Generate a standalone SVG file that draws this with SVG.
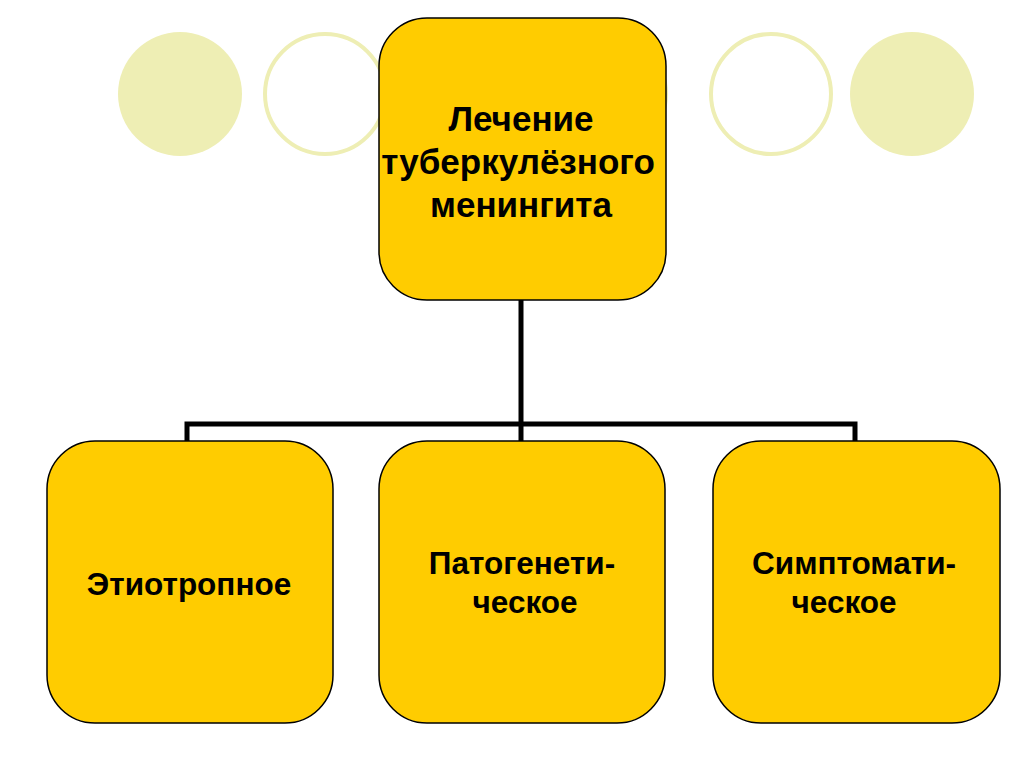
<svg xmlns="http://www.w3.org/2000/svg" width="1024" height="767" viewBox="0 0 1024 767">
<style>
.deco-f{fill:#EEEEB4;}
.deco-o{fill:none;stroke:#EEEEB4;stroke-width:4;}
.box{fill:#FFCC00;stroke:#000;stroke-width:1.5;}
.lbl{font-family:"Liberation Sans",Arial,sans-serif;font-weight:bold;font-size:31.5px;fill:#000;text-anchor:middle;}
.big{font-size:35px;}
.conn{fill:none;stroke:#000;stroke-width:5;}
</style>
<rect width="1024" height="767" fill="#fff"/>
<g id="decor">
<circle class="deco-f" cx="180" cy="94" r="62"/>
<circle class="deco-o" cx="325" cy="94" r="60"/>
<circle class="deco-o" cx="440" cy="94" r="60"/>
<circle class="deco-o" cx="606" cy="94" r="60"/>
<circle class="deco-o" cx="771" cy="94" r="60"/>
<circle class="deco-f" cx="912" cy="94" r="62"/>
</g>
<g id="connectors">
<polyline class="conn" points="521,300 521,424"/>
<polyline class="conn" points="187,441 187,424 855,424 855,441"/>
<polyline class="conn" points="521,424 521,441"/>
</g>
<g id="root">
<rect class="box" x="379" y="18" width="287" height="282" rx="48"/>
<text class="lbl big" x="521" y="131">Лечение</text>
<text class="lbl big" x="518" y="174">туберкулёзного</text>
<text class="lbl big" x="521" y="217">менингита</text>
</g>
<g id="n1">
<rect class="box" x="47" y="441" width="286" height="282" rx="48"/>
<text class="lbl" x="189" y="595">Этиотропное</text>
</g>
<g id="n2">
<rect class="box" x="379" y="441" width="286" height="282" rx="48"/>
<text class="lbl" x="522" y="574">Патогенети-</text>
<text class="lbl" x="525" y="613">ческое</text>
</g>
<g id="n3">
<rect class="box" x="713" y="441" width="287" height="282" rx="48"/>
<text class="lbl" x="854" y="574">Симптомати-</text>
<text class="lbl" x="844" y="613">ческое</text>
</g>
</svg>
